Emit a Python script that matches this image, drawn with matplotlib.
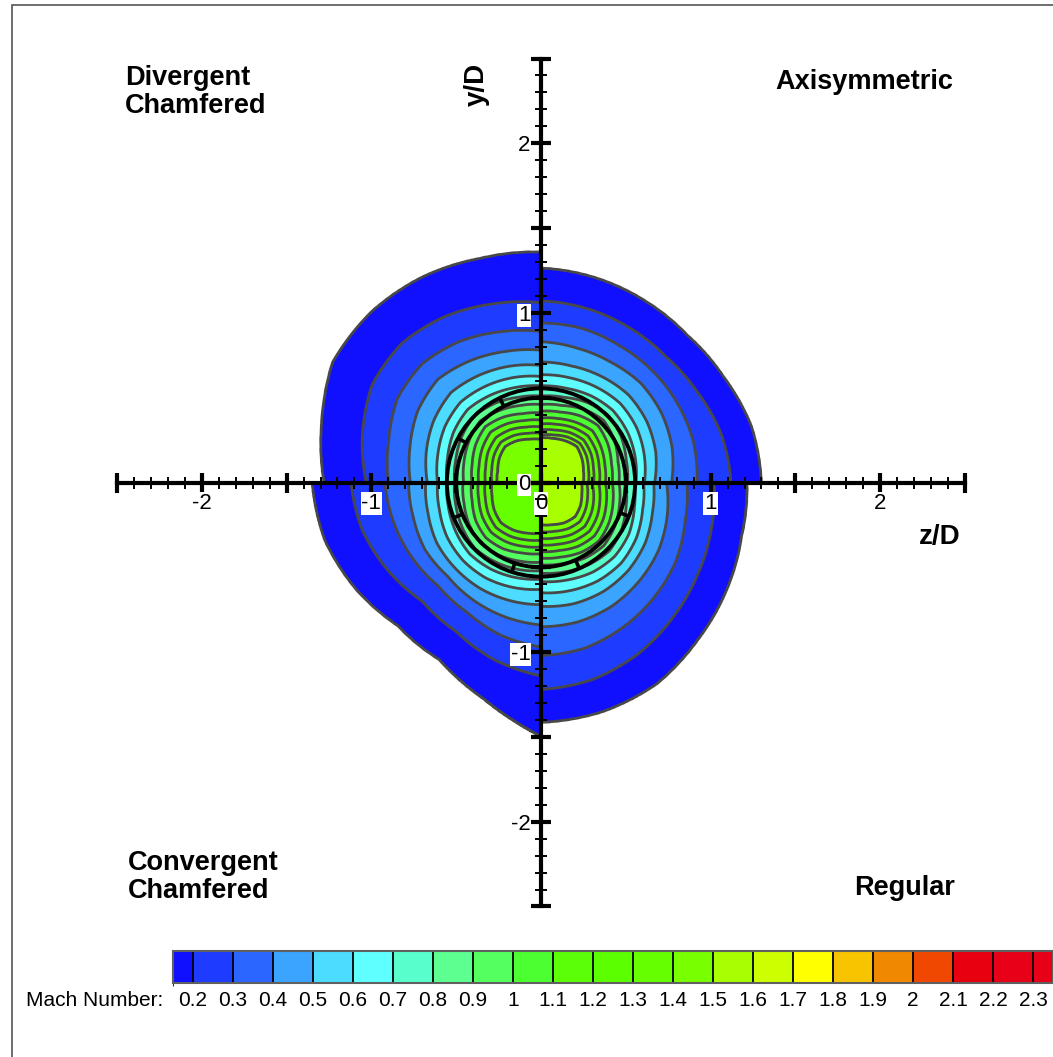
import numpy as np
import matplotlib
matplotlib.use('Agg')
import matplotlib.pyplot as plt
from matplotlib.colors import ListedColormap, BoundaryNorm
from matplotlib.ticker import MultipleLocator, FuncFormatter
from matplotlib.patches import Circle, Rectangle
import matplotlib.colorbar as mcolorbar

plt.rcParams['font.family'] = ['Liberation Sans', 'DejaVu Sans']

# colour levels of the Mach number legend
levels = [0.15, 0.2, 0.3, 0.4, 0.5, 0.6, 0.7, 0.8, 0.9, 1.0, 1.1, 1.2,
          1.3, 1.4, 1.5, 1.6, 1.7, 1.8, 1.9, 2.0, 2.1, 2.2, 2.3, 2.35]
band_colors = ['#1010ff', '#1e3cff', '#2a66ff', '#3aa4ff', '#4cdcff', '#60ffff',
               '#58ffcc', '#5cff90', '#54ff60', '#4cff30', '#5aff08', '#5cff00',
               '#66ff00', '#78ff00', '#a8ff00', '#ccff00', '#ffff00', '#f8c400',
               '#f08800', '#f04800', '#e80010', '#e80018', '#e80018']
cbar_ticks = [0.2, 0.3, 0.4, 0.5, 0.6, 0.7, 0.8, 0.9, 1.0, 1.1, 1.2, 1.3,
              1.4, 1.5, 1.6, 1.7, 1.8, 1.9, 2.0, 2.1, 2.2, 2.3]

# angles inside each quadrant (deg, counter-clockwise from the quadrant start)
angles = [0, 15, 30, 45, 60, 75, 90]

# radius (r/D) of each contour level in each quadrant
# Axisymmetric: +z -> +y
tr_start = 0
tr_peak = 1.58
tr_radii = [
    [1.30, 1.285, 1.245, 1.225, 1.235, 1.25, 1.265],
    [1.12, 1.10, 1.065, 1.045, 1.05, 1.06, 1.07],
    [0.92, 0.93, 0.93, 0.93, 0.93, 0.94, 0.94],
    [0.77, 0.80, 0.82, 0.83, 0.82, 0.82, 0.83],
    [0.67, 0.70, 0.72, 0.73, 0.72, 0.71, 0.71],
    [0.61, 0.63, 0.65, 0.66, 0.65, 0.64, 0.635],
    [0.56, 0.575, 0.59, 0.60, 0.59, 0.575, 0.57],
    [0.51, 0.52, 0.545, 0.56, 0.545, 0.52, 0.51],
    [0.46, 0.47, 0.50, 0.52, 0.50, 0.47, 0.46],
    [0.42, 0.43, 0.455, 0.475, 0.455, 0.43, 0.42],
    [0.38, 0.39, 0.41, 0.43, 0.41, 0.39, 0.38],
    [0.345, 0.355, 0.375, 0.39, 0.375, 0.355, 0.345],
    [0.31, 0.32, 0.34, 0.355, 0.34, 0.32, 0.31],
    [0.28, 0.29, 0.31, 0.325, 0.31, 0.29, 0.28],
    [0.25, 0.26, 0.28, 0.30, 0.285, 0.27, 0.265],
]
# Divergent Chamfered: +y -> -z
tl_start = 90
tl_peak = 1.46
tl_radii = [
    [1.36, 1.37, 1.40, 1.42, 1.42, 1.34, 1.28],
    [1.06, 1.09, 1.13, 1.16, 1.15, 1.09, 1.03],
    [0.89, 0.92, 0.96, 0.99, 0.98, 0.93, 0.90],
    [0.78, 0.80, 0.83, 0.86, 0.84, 0.80, 0.77],
    [0.69, 0.71, 0.73, 0.75, 0.73, 0.70, 0.67],
    [0.625, 0.64, 0.655, 0.67, 0.655, 0.63, 0.61],
    [0.57, 0.58, 0.595, 0.61, 0.595, 0.57, 0.555],
    [0.51, 0.52, 0.54, 0.555, 0.54, 0.52, 0.51],
    [0.46, 0.47, 0.49, 0.51, 0.49, 0.47, 0.456],
    [0.41, 0.42, 0.445, 0.465, 0.445, 0.42, 0.407],
    [0.368, 0.378, 0.40, 0.42, 0.40, 0.378, 0.368],
    [0.328, 0.338, 0.36, 0.375, 0.36, 0.338, 0.328],
    [0.29, 0.30, 0.32, 0.335, 0.32, 0.30, 0.29],
    [0.255, 0.265, 0.285, 0.30, 0.285, 0.265, 0.26],
]
# Convergent Chamfered: -z -> -y
bl_start = 180
bl_peak = 1.38
bl_radii = [
    [1.35, 1.32, 1.26, 1.195, 1.205, 1.32, 1.50],
    [1.12, 1.09, 1.04, 0.99, 1.01, 1.08, 1.14],
    [0.92, 0.90, 0.88, 0.86, 0.88, 0.93, 0.97],
    [0.78, 0.78, 0.79, 0.78, 0.80, 0.82, 0.84],
    [0.68, 0.69, 0.71, 0.715, 0.72, 0.72, 0.72],
    [0.61, 0.62, 0.64, 0.65, 0.65, 0.64, 0.63],
    [0.555, 0.565, 0.58, 0.595, 0.59, 0.58, 0.57],
    [0.51, 0.52, 0.535, 0.55, 0.54, 0.53, 0.52],
    [0.46, 0.47, 0.49, 0.505, 0.495, 0.48, 0.47],
    [0.41, 0.42, 0.445, 0.46, 0.45, 0.43, 0.42],
    [0.37, 0.38, 0.40, 0.415, 0.405, 0.39, 0.38],
    [0.33, 0.34, 0.36, 0.375, 0.365, 0.35, 0.34],
    [0.29, 0.30, 0.32, 0.335, 0.325, 0.31, 0.30],
]
# Regular: -y -> +z
br_start = 270
br_peak = 1.57
br_radii = [
    [1.415, 1.40, 1.37, 1.31, 1.265, 1.225, 1.215],
    [1.22, 1.20, 1.16, 1.11, 1.07, 1.04, 1.02],
    [1.02, 1.01, 0.98, 0.95, 0.92, 0.88, 0.86],
    [0.85, 0.85, 0.84, 0.82, 0.80, 0.77, 0.74],
    [0.73, 0.74, 0.74, 0.73, 0.71, 0.68, 0.664],
    [0.65, 0.66, 0.67, 0.67, 0.65, 0.62, 0.605],
    [0.584, 0.595, 0.61, 0.615, 0.60, 0.57, 0.55],
    [0.535, 0.545, 0.56, 0.57, 0.55, 0.52, 0.50],
    [0.485, 0.495, 0.515, 0.525, 0.505, 0.48, 0.46],
    [0.446, 0.455, 0.475, 0.485, 0.465, 0.44, 0.42],
    [0.407, 0.415, 0.435, 0.445, 0.425, 0.40, 0.38],
    [0.368, 0.377, 0.395, 0.405, 0.385, 0.36, 0.34],
    [0.33, 0.338, 0.355, 0.365, 0.345, 0.322, 0.30],
    [0.29, 0.298, 0.315, 0.325, 0.305, 0.285, 0.27],
    [0.25, 0.258, 0.275, 0.285, 0.27, 0.25, 0.24],
]

# nozzle lip circles and chamfer marks (deg)
nozzle_radii = [0.50, 0.555]
notch_angles = [116, 152, 202, 252, 294, 339]

quadrants = [(tr_start, tr_radii, tr_peak), (tl_start, tl_radii, tl_peak),
             (bl_start, bl_radii, bl_peak), (br_start, br_radii, br_peak)]


def quadrant_field(start, radii, peak):
    lev = levels[:len(radii)]
    t_fine = np.linspace(0, 90, 181)
    r = np.linspace(0, 1.7, 700)
    R, T = np.meshgrid(r, t_fine)
    M = np.zeros_like(R)
    for i, t in enumerate(t_fine):
        # interpolate 1/r between the read angles (smoother for straight edges)
        rk = [1.0 / np.interp(t, angles, 1.0 / np.array(row)) for row in radii]
        rp = [0.0] + rk[::-1] + [rk[0] + 0.05]
        mp = [peak] + lev[::-1] + [0.0]
        M[i] = np.interp(r, rp, mp, right=0.0)
    th = np.deg2rad(T + start)
    return R * np.cos(th), R * np.sin(th), M, lev


W, H = 1053, 1057
fig = plt.figure(figsize=(W / 100, H / 100), dpi=100)
fig.patch.set_facecolor('white')

cmap = ListedColormap(band_colors)
norm = BoundaryNorm(levels, cmap.N)

ax = fig.add_axes([117 / W, 1 - 906.5 / H, 848 / W, 848 / H])
for start, radii, peak in quadrants:
    X, Y, M, lev = quadrant_field(start, radii, peak)
    ax.contourf(X, Y, M, levels=levels, cmap=cmap, norm=norm, zorder=1)
    ax.contour(X, Y, M, levels=lev, colors='#484848', linewidths=2.0, zorder=2)

for rn in nozzle_radii:
    ax.add_patch(Circle((0, 0), rn, fill=False, edgecolor='black', lw=2.8, zorder=2.2))
for a in notch_angles:
    t = np.deg2rad(a)
    ax.plot([nozzle_radii[0] * np.cos(t), nozzle_radii[1] * np.cos(t)],
            [nozzle_radii[0] * np.sin(t), nozzle_radii[1] * np.sin(t)],
            color='black', lw=2.6, zorder=2.2, solid_capstyle='butt')

ax.set_xlim(-2.5, 2.5)
ax.set_ylim(-2.5, 2.5)
ax.set_aspect('equal')
ax.patch.set_alpha(0)
ax.set_axisbelow(False)
for s in ['top', 'right']:
    ax.spines[s].set_visible(False)
for s in ['left', 'bottom']:
    ax.spines[s].set_position(('data', 0))
    ax.spines[s].set_linewidth(3)
    ax.spines[s].set_zorder(2.4)
ax.xaxis.set_major_locator(MultipleLocator(0.5))
ax.yaxis.set_major_locator(MultipleLocator(0.5))
ax.xaxis.set_minor_locator(MultipleLocator(0.1))
ax.yaxis.set_minor_locator(MultipleLocator(0.1))
fmt = FuncFormatter(lambda v, p: f'{round(v):d}' if abs(v - round(v)) < 1e-6 else '')
ax.xaxis.set_major_formatter(fmt)
ax.yaxis.set_major_formatter(fmt)
ax.tick_params(which='major', direction='inout', length=14, width=3,
               labelsize=16, pad=0.5)
ax.tick_params(which='minor', direction='inout', length=8, width=1.4)
for lab in ax.get_xticklabels() + ax.get_yticklabels():
    lab.set_bbox(dict(facecolor='white', edgecolor='none', pad=0.6))

fig.text(477 / W, 1 - 84 / H, 'y/D', rotation=90, fontsize=20, fontweight='bold',
         ha='center', va='center')
fig.text(940 / W, 1 - 537 / H, 'z/D', fontsize=20, fontweight='bold',
         ha='center', va='center')

fig.text(125 / W, 1 - 92 / H, 'Divergent\nChamfered', fontsize=19.5, fontweight='bold',
         ha='left', va='center', linespacing=1.12)
fig.text(775 / W, 1 - 82 / H, 'Axisymmetric', fontsize=19.5, fontweight='bold',
         ha='left', va='center')
fig.text(128 / W, 1 - 877 / H, 'Convergent\nChamfered', fontsize=19.5, fontweight='bold',
         ha='left', va='center', linespacing=1.12)
fig.text(955 / W, 1 - 888 / H, 'Regular', fontsize=19.5, fontweight='bold',
         ha='right', va='center')

# colour legend
cax = fig.add_axes([173 / W, 1 - 983 / H, 880 / W, 32 / H])
cb = mcolorbar.ColorbarBase(cax, cmap=cmap, norm=norm, orientation='horizontal',
                            spacing='proportional', drawedges=True, ticks=cbar_ticks)
cb.dividers.set_color('black')
cb.dividers.set_linewidth(1.3)
cb.outline.set_edgecolor('#606060')
cb.outline.set_linewidth(1.5)
cax.set_xticklabels([f'{v:g}' for v in cbar_ticks])
cax.tick_params(length=0, labelsize=15, pad=6)
fig.text(26 / W, 1 - 1001 / H, 'Mach Number:', fontsize=15, ha='left', va='center')

fig.add_artist(Rectangle((12 / W, -0.5), 2, 1.5 - 5 / H, transform=fig.transFigure,
                         fill=False, edgecolor='#555555', lw=1.2))

fig.savefig('out.png', dpi=100)
